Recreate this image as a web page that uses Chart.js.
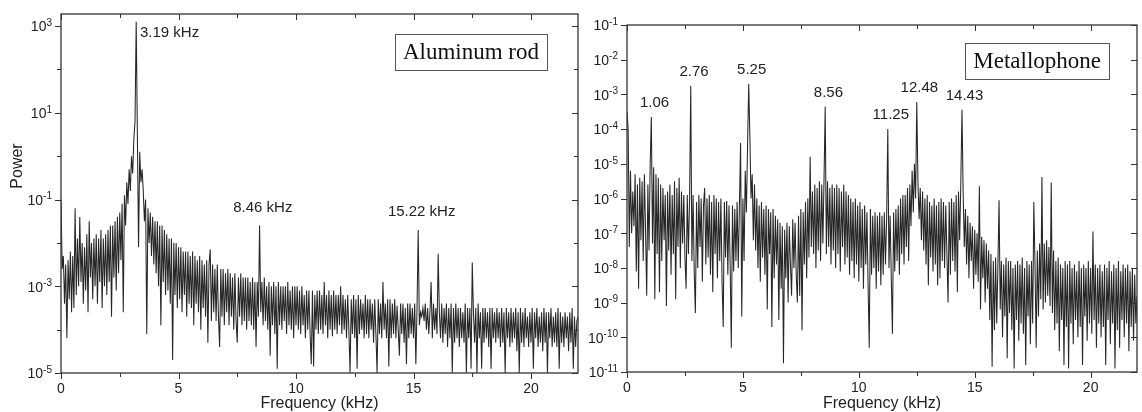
<!DOCTYPE html>
<html>
<head>
<meta charset="utf-8">
<script src="https://cdn.jsdelivr.net/npm/chart.js@4.4.1/dist/chart.umd.min.js"></script>
<style>
  html, body { margin: 0; padding: 0; background: #fff; }
  body { width: 1142px; height: 412px; position: relative; overflow: hidden; }
  canvas { position: absolute; top: 0; }
  #rod { left: 0; }
  #metal { left: 580px; }
</style>
</head>
<body>
<canvas id="rod" width="580" height="412"></canvas>
<canvas id="metal" width="562" height="412"></canvas>
<script>
// spectra sampled every 0.05 kHz from 0 to 22 kHz, values are log10(power)
const freqStep = 0.05;

const rodLogPower = [
  -1.0, -2.6, -2.3, -3.4, -2.5, -4.2, -2.4, -3.3, -2.2, -3.6,
  -2.3, -3.5, -1.2, -3.2, -1.9, -3.0, -1.4, -2.9, -2.0, -3.4,
  -2.1, -3.1, -1.8, -3.6, -1.5, -2.8, -2.0, -3.3, -1.9, -3.0,
  -1.8, -3.4, -1.9, -2.9, -1.7, -3.5, -1.9, -3.0, -1.8, -3.2,
  -1.7, -2.9, -1.6, -3.7, -1.6, -2.8, -1.5, -3.1, -1.4, -2.7,
  -1.3, -2.4, -1.1, -3.6, -0.9, -1.6, -0.6, -1.1, -0.3, -0.8,
  0.0, -0.4, 0.4, 0.8, 3.1, 0.5, -2.1, 0.1, -0.6, -0.3,
  -0.8, -1.5, -1.0, -4.1, -1.2, -2.0, -1.3, -2.3, -1.4, -2.5,
  -1.5, -2.7, -1.5, -3.0, -1.6, -3.9, -1.6, -2.9, -1.7, -3.2,
  -1.8, -3.1, -1.9, -3.4, -1.9, -4.7, -2.0, -3.2, -2.0, -3.5,
  -2.1, -3.3, -2.1, -3.6, -2.2, -3.2, -2.2, -3.7, -2.2, -3.4,
  -2.3, -3.5, -2.2, -3.9, -2.3, -3.4, -2.4, -3.6, -2.3, -4.0,
  -2.4, -3.5, -2.5, -3.7, -2.4, -4.3, -2.5, -2.15, -3.8, -2.5,
  -3.6, -2.6, -3.8, -2.5, -3.7, -4.4, -2.6, -3.7, -2.6, -3.9,
  -2.7, -3.6, -2.6, -3.9, -2.7, -3.7, -2.8, -4.0, -2.7, -3.8,
  -4.3, -2.8, -3.7, -2.7, -3.9, -2.8, -3.8, -2.8, -4.0, -2.8,
  -3.8, -2.9, -3.9, -2.8, -4.0, -2.9, -4.4, -2.9, -3.7, -1.6,
  -3.6, -2.9, -3.9, -2.8, -3.8, -3.0, -4.0, -2.9, -4.6, -3.0,
  -3.9, -2.9, -4.1, -3.0, -4.9, -2.9, -3.9, -3.0, -4.0, -3.0,
  -3.8, -3.0, -4.1, -2.9, -3.9, -3.1, -4.0, -3.0, -4.2, -3.0,
  -3.9, -3.0, -4.0, -3.1, -4.1, -3.0, -3.9, -3.2, -4.2, -3.1,
  -4.0, -3.1, -4.1, -4.8, -3.1, -4.85, -3.2, -4.0, -3.1, -4.1,
  -3.1, -4.0, -3.2, -4.1, -2.9, -3.9, -3.2, -4.2, -3.1, -4.0,
  -3.2, -4.15, -3.1, -4.0, -3.2, -4.1, -3.2, -3.9, -3.0, -4.1,
  -3.2, -4.0, -3.3, -4.2, -3.2, -4.0, -5.0, -3.3, -4.1, -3.2,
  -4.2, -3.3, -4.9, -3.2, -4.1, -3.3, -4.0, -3.4, -4.2, -3.2,
  -4.1, -3.3, -4.2, -3.3, -4.0, -3.4, -4.3, -3.3, -4.1, -5.0,
  -3.3, -4.1, -3.4, -4.2, -2.9, -4.0, -3.4, -4.2, -3.3, -4.85,
  -3.3, -4.2, -3.4, -4.1, -3.3, -4.2, -3.45, -4.0, -4.6, -3.4,
  -4.1, -3.4, -4.3, -3.5, -4.8, -3.4, -4.2, -3.4, -4.1, -3.5,
  -4.2, -3.4, -4.8, -3.5, -1.7, -3.9, -3.6, -3.7, -3.5, -3.8,
  -3.4, -4.0, -3.5, -4.1, -3.6, -2.9, -4.2, -3.4, -4.0, -3.5,
  -4.1, -2.25, -3.6, -4.2, -3.4, -4.3, -3.5, -4.1, -3.4, -4.4,
  -3.5, -4.2, -3.4, -5.0, -3.5, -4.3, -3.4, -4.2, -3.5, -4.4,
  -3.5, -4.2, -3.6, -4.3, -3.4, -5.0, -3.5, -4.2, -3.5, -4.9,
  -2.45, -3.6, -4.3, -3.5, -5.0, -3.4, -4.2, -3.6, -4.9, -3.5,
  -4.3, -3.5, -4.2, -3.6, -4.4, -3.5, -4.9, -3.5, -4.2, -3.6,
  -4.3, -3.5, -4.2, -3.6, -4.4, -3.5, -4.3, -3.6, -5.0, -3.5,
  -4.2, -3.6, -4.4, -3.5, -4.3, -3.6, -4.2, -3.5, -4.5, -3.6,
  -5.0, -3.5, -4.3, -3.6, -4.4, -3.5, -4.2, -3.7, -4.4, -3.6,
  -4.3, -3.5, -4.9, -3.6, -4.2, -3.5, -4.4, -3.7, -4.3, -3.6,
  -4.5, -3.5, -4.3, -3.6, -5.0, -3.6, -4.2, -3.5, -4.4, -3.7,
  -4.3, -3.6, -4.4, -3.5, -4.9, -3.6, -4.3, -3.7, -4.4, -3.6,
  -4.2, -3.7, -4.5, -3.6, -4.3, -3.5, -4.9, -3.7, -4.4, -3.8,
  -3.7
];

const metalLogPower = [
  -3.5, -4.0, -7.4, -5.2, -7.0, -5.8, -6.8, -5.3, -8.1, -5.6,
  -8.6, -5.4, -7.2, -5.5, -7.8, -5.3, -6.9, -8.8, -5.6, -7.5,
  -5.0, -3.65, -7.3, -5.1, -8.9, -5.3, -7.6, -5.4, -8.7, -5.6,
  -7.8, -5.7, -7.2, -5.9, -9.1, -5.8, -7.5, -5.6, -8.2, -5.9,
  -7.6, -5.5, -8.9, -5.7, -7.4, -5.4, -8.0, -5.8, -7.3, -5.9,
  -7.7, -8.6, -5.9, -7.6, -6.0, -2.75, -7.8, -5.9, -8.1, -9.3,
  -6.1, -8.0, -5.9, -7.4, -6.0, -8.4, -6.2, -5.7, -7.9, -6.0,
  -7.7, -5.9, -8.2, -6.1, -8.7, -5.9, -7.6, -6.0, -8.3, -6.1,
  -7.8, -6.0, -8.4, -9.7, -6.1, -7.7, -6.07, -8.2, -6.2, -7.9,
  -10.3, -6.2, -8.1, -6.3, -7.8, -6.1, -8.0, -6.2, -4.4, -9.4,
  -6.0, -7.8, -5.2, -6.4, -4.5, -2.7, -4.2, -6.0, -5.3, -7.2,
  -5.6, -7.5, -6.0, -8.0, -6.2, -8.4, -6.1, -7.7, -6.3, -8.2,
  -6.2, -9.2, -6.3, -7.6, -6.4, -9.7, -6.3, -8.3, -6.5, -7.9,
  -6.6, -9.5, -6.7, -8.6, -6.8, -10.75, -6.9, -8.3, -6.7, -9.0,
  -6.8, -7.9, -8.8, -6.6, -8.0, -6.7, -8.2, -9.0, -6.5, -8.8,
  -6.3, -9.8, -6.4, -7.9, -6.1, -8.3, -6.0, -7.7, -4.8, -7.4,
  -5.8, -7.6, -5.6, -8.0, -5.7, -7.5, -5.5, -7.8, -5.6, -7.3,
  -5.4, -3.35, -7.6, -5.5, -7.4, -5.7, -7.9, -5.6, -7.5, -5.7,
  -8.0, -5.6, -7.6, -5.7, -8.1, -5.8, -7.4, -5.6, -7.9, -5.8,
  -7.7, -5.9, -8.2, -6.0, -7.8, -6.1, -8.3, -6.0, -7.9, -6.2,
  -8.4, -6.1, -8.0, -6.3, -8.6, -6.2, -7.9, -6.4, -8.5, -10.3,
  -6.3, -8.2, -6.5, -8.0, -6.4, -8.6, -6.5, -8.1, -6.4, -8.5,
  -6.5, -8.2, -6.4, -7.9, -6.6, -4.0, -8.0, -6.5, -8.3, -9.9,
  -6.4, -8.1, -6.3, -7.8, -6.2, -8.2, -6.0, -7.6, -5.9, -7.9,
  -5.9, -7.4, -5.7, -7.8, -5.6, -6.8, -5.2, -6.4, -5.0, -6.0,
  -3.22, -5.5, -6.6, -5.7, -7.2, -5.8, -7.5, -6.0, -7.9, -5.9,
  -8.5, -6.1, -7.7, -6.2, -8.1, -6.0, -7.9, -6.2, -8.5, -6.1,
  -8.3, -6.0, -7.8, -6.1, -8.0, -6.2, -7.6, -9.0, -6.1, -8.2,
  -6.0, -7.8, -6.1, -8.1, -5.9, -8.7, -5.8, -7.2, -5.55, -3.44,
  -5.8, -7.4, -6.3, -7.9, -6.5, -8.3, -6.7, -7.8, -6.8, -8.6,
  -6.9, -8.2, -7.0, -8.4, -5.65, -9.2, -7.1, -8.3, -7.2, -9.0,
  -7.3, -8.6, -7.5, -9.5, -7.6, -10.85, -7.8, -9.8, -7.7, -9.6,
  -7.9, -6.05, -9.2, -7.8, -10.0, -7.9, -9.4, -7.7, -10.6, -7.8,
  -9.3, -7.8, -9.8, -8.0, -10.9, -7.9, -9.5, -7.8, -10.1, -7.9,
  -9.6, -7.7, -9.9, -8.0, -10.8, -7.8, -9.4, -7.9, -10.2, -7.8,
  -9.6, -6.1, -7.9, -10.3, -7.5, -9.4, -7.3, -8.9, -5.38, -9.2,
  -7.3, -9.0, -7.2, -8.8, -7.4, -9.1, -5.54, -9.3, -7.5, -9.8,
  -7.8, -9.6, -7.7, -10.4, -7.9, -9.5, -8.0, -10.8, -7.8, -9.7,
  -7.9, -10.9, -7.8, -9.6, -8.0, -10.2, -7.9, -9.5, -8.1, -10.0,
  -7.8, -9.7, -8.0, -10.8, -7.9, -9.4, -8.0, -10.1, -7.8, -9.6,
  -8.0, -9.9, -6.95, -9.5, -7.9, -10.3, -8.0, -9.6, -7.9, -10.0,
  -8.1, -9.7, -7.9, -10.8, -8.0, -9.5, -7.8, -10.2, -8.1, -9.6,
  -7.9, -10.9, -8.0, -9.8, -7.8, -10.3, -8.1, -9.5, -7.9, -10.0,
  -8.0, -9.6, -7.9, -10.4, -8.1, -9.7, -8.0, -10.1, -8.2, -9.6,
  -8.8
];

const rodPeakFreqs = [3.19, 8.46, 15.22];
const rodPeakLabels = ['3.19 kHz', '8.46 kHz', '15.22 kHz'];
const metalPeakFreqs = [1.06, 2.76, 5.25, 8.56, 11.25, 12.48, 14.43];
const metalPeakLabels = ['1.06', '2.76', '5.25', '8.56', '11.25', '12.48', '14.43'];

const xTicks = [0, 5, 10, 15, 20];
const xMinorStep = 2.5;
const rodTickExps = [-5, -4, -3, -2, -1, 0, 1, 2, 3];
const rodLabelExps = [-5, -3, -1, 1, 3];
const metalTickExps = [-11, -10, -9, -8, -7, -6, -5, -4, -3, -2, -1];
const metalLabelExps = metalTickExps;

const sans = 'Liberation Sans, Arial, sans-serif';
const serif = 'Liberation Serif, Times New Roman, serif';
const ink = '#222';

function toPoints(logs) {
  return logs.map((v, i) => ({ x: +(i * freqStep).toFixed(2), y: Math.pow(10, v) }));
}

// frame, ticks, y labels with superscripts, peak labels and the name box
const framePlugin = {
  id: 'frame',
  afterDraw(chart, args, o) {
    const { ctx, chartArea: a, scales: { x, y } } = chart;
    ctx.save();
    ctx.strokeStyle = '#333';
    ctx.lineWidth = 1.3;
    ctx.strokeRect(a.left, a.top, a.width, a.height);

    ctx.lineWidth = 1;
    ctx.beginPath();
    for (let v = 0; v <= x.max + 1e-9; v += xMinorStep) {
      const px = Math.round(x.getPixelForValue(v)) + 0.5;
      const len = xTicks.includes(v) ? 6 : 4;
      ctx.moveTo(px, a.bottom); ctx.lineTo(px, a.bottom + len);
      ctx.moveTo(px, a.top); ctx.lineTo(px, a.top + len);
    }
    o.tickExps.forEach(e => {
      const py = Math.round(y.getPixelForValue(Math.pow(10, e))) + 0.5;
      const len = o.labelExps.includes(e) ? 6 : 4;
      ctx.moveTo(a.left - len, py); ctx.lineTo(a.left, py);
      ctx.moveTo(a.right - len, py); ctx.lineTo(a.right, py);
    });
    ctx.stroke();

    // y tick labels: 10 with a raised exponent
    ctx.fillStyle = ink;
    o.labelExps.forEach(e => {
      const py = y.getPixelForValue(Math.pow(10, e));
      const exp = e < 0 ? '-' + Math.abs(e) : String(e);
      ctx.font = '10px ' + sans;
      const ew = ctx.measureText(exp).width;
      ctx.font = '14px ' + sans;
      const bw = ctx.measureText('10').width;
      const right = a.left - 9;
      ctx.textAlign = 'left';
      ctx.textBaseline = 'middle';
      ctx.fillText('10', right - ew - bw, py + 1.5);
      ctx.font = '10px ' + sans;
      ctx.textBaseline = 'top';
      ctx.fillText(exp, right - ew, py - 8);
    });

    // peak labels above the spikes
    const data = chart.data.datasets[0].data;
    ctx.font = '15px ' + sans;
    ctx.textBaseline = 'middle';
    o.peakFreqs.forEach((f, k) => {
      const i = Math.round(f / freqStep);
      const top = Math.max(data[i - 1].y, data[i].y, data[i + 1].y);
      const px = x.getPixelForValue(f);
      const py = y.getPixelForValue(top);
      if (k === 0 && o.firstBeside) {
        ctx.textAlign = 'left';
        ctx.fillText(o.peakLabels[k], px + 4, py + 11);
      } else {
        ctx.textAlign = 'center';
        ctx.fillText(o.peakLabels[k], px + 3, py - o.labelGap);
      }
    });

    // sample name box
    ctx.font = '23px ' + serif;
    const tw = ctx.measureText(o.name).width;
    const bw = tw + 16, bh = 36;
    const bx = a.right - o.boxRight - bw, by = a.top + o.boxTop;
    ctx.fillStyle = '#fff';
    ctx.fillRect(bx, by, bw, bh);
    ctx.strokeStyle = '#555';
    ctx.lineWidth = 1;
    ctx.strokeRect(Math.round(bx) + 0.5, Math.round(by) + 0.5, Math.round(bw), bh);
    ctx.fillStyle = '#111';
    ctx.textAlign = 'center';
    ctx.textBaseline = 'middle';
    ctx.fillText(o.name, bx + bw / 2, by + bh / 2 + 1);

    if (o.yTitle) {
      ctx.save();
      ctx.translate(a.left - 43, a.top + 152);
      ctx.rotate(-Math.PI / 2);
      ctx.font = '16px ' + sans;
      ctx.fillStyle = ink;
      ctx.textAlign = 'center';
      ctx.textBaseline = 'middle';
      ctx.fillText(o.yTitle, 0, 0);
      ctx.restore();
    }
    ctx.restore();
  }
};

function makeChart(id, logs, yMin, yMax, axisW, axisH, pad, frameOpts) {
  return new Chart(document.getElementById(id), {
    type: 'line',
    data: {
      datasets: [{
        data: toPoints(logs),
        borderColor: '#262626',
        borderWidth: 1.05,
        pointRadius: 0,
        tension: 0,
        fill: false
      }]
    },
    options: {
      responsive: false,
      animation: false,
      events: [],
      layout: { padding: pad },
      plugins: { legend: { display: false }, tooltip: { enabled: false }, frame: frameOpts },
      scales: {
        x: {
          type: 'linear', min: 0, max: 22,
          afterBuildTicks: s => { s.ticks = xTicks.map(v => ({ value: v })); },
          afterFit: s => { s.height = axisH; },
          grid: { display: false, drawTicks: false },
          border: { display: false },
          ticks: { padding: 8, color: ink, font: { family: sans, size: 14 }, maxRotation: 0, autoSkip: false },
          title: { display: true, text: 'Frequency (kHz)', color: ink, font: { family: sans, size: 16, lineHeight: 1 }, padding: 0 }
        },
        y: {
          type: 'logarithmic', min: yMin, max: yMax,
          afterBuildTicks: s => { s.ticks = frameOpts.tickExps.map(e => ({ value: Math.pow(10, e) })); },
          afterFit: s => { s.width = axisW; },
          grid: { display: false, drawTicks: false },
          border: { display: false },
          ticks: { display: false }
        }
      }
    },
    plugins: [framePlugin]
  });
}

makeChart('rod', rodLogPower, 1e-5, 1.9e3, 61, 39, { top: 14, right: 2, left: 0, bottom: 0 }, {
  tickExps: rodTickExps, labelExps: rodLabelExps,
  peakFreqs: rodPeakFreqs, peakLabels: rodPeakLabels, firstBeside: true, labelGap: 18,
  name: 'Aluminum rod', boxRight: 31, boxTop: 20, yTitle: 'Power'
});

makeChart('metal', metalLogPower, 1e-11, 1e-1, 47, 40, { top: 25, right: 5, left: 0, bottom: 0 }, {
  tickExps: metalTickExps, labelExps: metalLabelExps,
  peakFreqs: metalPeakFreqs, peakLabels: metalPeakLabels, firstBeside: false, labelGap: 14,
  name: 'Metallophone', boxRight: 28, boxTop: 18, yTitle: ''
});
</script>
</body>
</html>
